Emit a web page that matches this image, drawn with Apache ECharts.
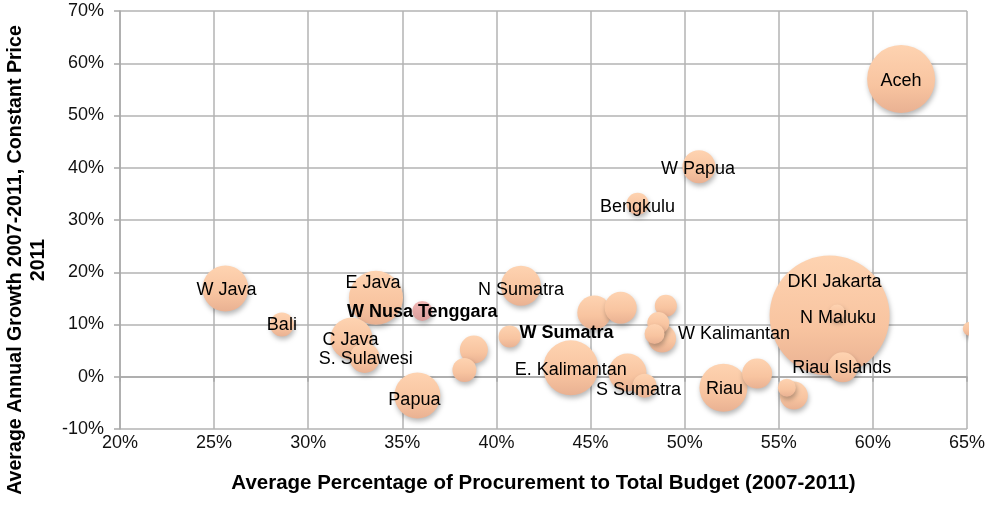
<!DOCTYPE html>
<html>
<head>
<meta charset="utf-8">
<title>Procurement vs Growth</title>
<script src="https://cdn.jsdelivr.net/npm/echarts@6/dist/echarts.min.js"></script>
<style>
  html, body { margin: 0; padding: 0; background: #fff; }
  #chart { width: 988px; height: 510px; }
</style>
</head>
<body>
<div id="chart"></div>
<script>
// bubbles, largest first so the small ones sit on top
const provinces = [
  'DKI Jakarta', 'Aceh', 'E Java', 'E. Kalimantan', 'Riau', 'W Java', 'Papua', 'C Java',
  'N Sumatra', '', '', 'W Papua', '', 'S. Sulawesi', 'Riau Islands', '', '',
  'W Kalimantan', '', '', 'S Sumatra', 'Bali', '', 'Bengkulu', '', 'W Sumatra',
  'W Nusa Tenggara', '', '', 'N Maluku', ''
];
// average % of procurement to total budget 2007-2011
const procurement = [
  57.7, 61.5, 33.6, 43.95, 52.06, 25.6, 35.8, 32.3,
  41.3, 46.96, 45.2, 50.76, 46.6, 33.0, 58.4, 53.85, 38.8,
  48.8, 55.8, 38.3, 47.87, 28.6, 49.0, 47.5, 48.6, 40.7,
  36.06, 48.4, 55.43, 58.1, 65.15
];
// average annual growth 2007-2011 (%)
const growth = [
  11.7, 57.0, 15.1, 1.7, -2.1, 16.9, -3.6, 7.3,
  17.4, 0.8, 12.3, 40.2, 13.2, 3.6, 1.8, 0.6, 5.2,
  7.3, -3.6, 1.3, -1.7, 10.0, 13.6, 33.1, 10.3, 7.7,
  12.6, 8.2, -2.1, 12.3, 9.2
];
// relative bubble size (area)
const budget = [
  3600, 1156, 729, 756, 576, 529, 529, 441,
  400, 361, 289, 272, 256, 225, 225, 225, 196,
  196, 196, 144, 144, 144, 121, 121, 121, 121,
  100, 100, 81, 64, 49
];

const xTicks = { min: 20, max: 65, step: 5 };
const yTicks = { min: -10, max: 70, step: 10 };

// label placement tweaks (pixels from bubble centre)
const labelOffsets = {
  'W Java': [1, 2], 'Bali': [0, 1], 'E Java': [-3, -15], 'W Nusa Tenggara': [0, 1],
  'C Java': [-1, 1], 'S. Sulawesi': [1, 1], 'Papua': [-3, 4], 'N Sumatra': [0, 4],
  'W Sumatra': [10, -3], 'W Kalimantan': [16, -5], 'E. Kalimantan': [0, 2],
  'S Sumatra': [-6, 4], 'W Papua': [-1, 2], 'Bengkulu': [0, 3], 'Aceh': [0, 2],
  'DKI Jakarta': [5, -34], 'N Maluku': [1, 6], 'Riau': [1, 1], 'Riau Islands': [-1, 1]
};
const leftAligned = ['W Sumatra', 'W Kalimantan'];
const boldNames = ['W Nusa Tenggara', 'W Sumatra'];
const pinkNames = ['W Nusa Tenggara'];

const FONT = '"Liberation Sans", Arial, sans-serif';

const peach = new echarts.graphic.LinearGradient(0, 0, 0, 1, [
  { offset: 0, color: '#fed3b1' },
  { offset: 0.6, color: '#f8c4a0' },
  { offset: 1, color: '#e9b192' }
]);
const pink = new echarts.graphic.LinearGradient(0, 0, 0, 1, [
  { offset: 0, color: '#f0b6b4' },
  { offset: 1, color: '#da9d9b' }
]);

const data = provinces.map((name, i) => {
  const off = labelOffsets[name] || [0, 0];
  return {
    name: name,
    value: [procurement[i], growth[i], budget[i]],
    itemStyle: { color: pinkNames.includes(name) ? pink : peach },
    label: {
      show: name !== '',
      position: 'inside',
      offset: off,
      align: leftAligned.includes(name) ? 'left' : 'center',
      fontWeight: boldNames.includes(name) ? 'bold' : 'normal'
    }
  };
});

const chart = echarts.init(document.getElementById('chart'));

chart.setOption({
  animation: false,
  backgroundColor: '#fff',
  grid: { left: 120, right: 20, top: 11, bottom: 81 },
  xAxis: {
    type: 'value',
    min: xTicks.min,
    max: xTicks.max,
    interval: xTicks.step,
    name: 'Average Percentage of Procurement to Total Budget (2007-2011)',
    nameLocation: 'middle',
    nameGap: 44,
    nameTextStyle: { fontFamily: FONT, fontSize: 20.5, fontWeight: 'bold', color: '#000' },
    axisLine: { lineStyle: { color: '#a8a8a8', width: 1.5 } },
    axisTick: { show: true, length: 5, lineStyle: { color: '#a8a8a8', width: 1.5 } },
    axisLabel: { formatter: '{value}%', margin: 5, fontFamily: FONT, fontSize: 18, color: '#111' },
    splitLine: { show: true, lineStyle: { color: '#b3b3b3', width: 1.5 } }
  },
  yAxis: {
    type: 'value',
    min: yTicks.min,
    max: yTicks.max,
    interval: yTicks.step,
    axisLine: { show: true, lineStyle: { color: '#a8a8a8', width: 1.5 } },
    axisTick: { show: true, length: 6, lineStyle: { color: '#a8a8a8', width: 1.5 } },
    axisLabel: { formatter: '{value}%', margin: 16, fontFamily: FONT, fontSize: 18, color: '#111' },
    splitLine: { show: true, lineStyle: { color: '#b3b3b3', width: 1.5 } }
  },
  graphic: [
    {
      type: 'rect',
      z: 100,
      shape: { x: 969, y: 300, width: 19, height: 60 },
      style: { fill: '#fff' }
    },
    {
      type: 'text',
      x: 27,
      y: 260,
      rotation: Math.PI / 2,
      style: {
        text: 'Average Annual Growth 2007-2011, Constant Price\n2011',
        fontFamily: FONT,
        fontSize: 19.6,
        fontWeight: 'bold',
        lineHeight: 23,
        textAlign: 'center',
        textVerticalAlign: 'middle',
        fill: '#000'
      }
    }
  ],
  series: [
    {
      type: 'scatter',
      clip: false,
      data: data,
      symbolSize: function (val) { return 2 * Math.sqrt(val[2]); },
      itemStyle: {
        opacity: 1,
        shadowColor: 'rgba(0,0,0,0.28)',
        shadowBlur: 5,
        shadowOffsetX: 1,
        shadowOffsetY: 3
      },
      label: {
        formatter: '{b}',
        fontFamily: FONT,
        fontSize: 18,
        color: '#000',
        textBorderWidth: 0,
        textShadowBlur: 0
      },
      emphasis: { disabled: true }
    }
  ]
});
</script>
</body>
</html>
